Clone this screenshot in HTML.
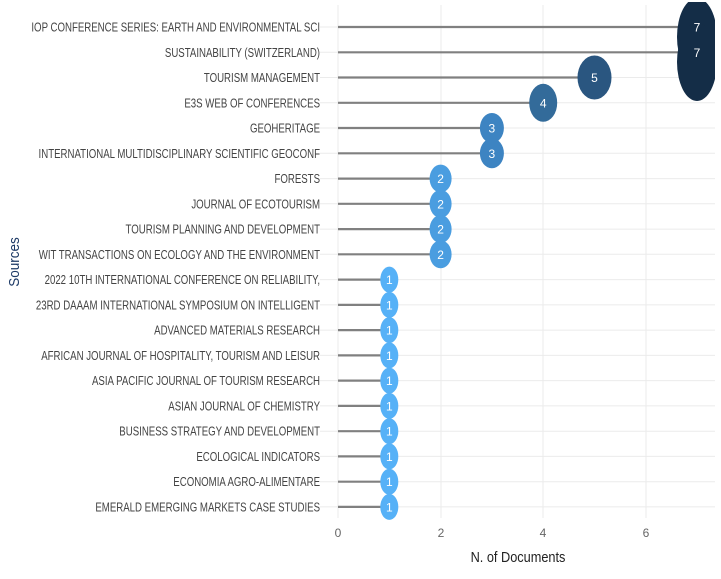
<!DOCTYPE html>
<html><head><meta charset="utf-8"><style>body{margin:0;background:#fff}svg{display:block;font-family:"Liberation Sans",sans-serif}</style></head><body>
<svg width="721" height="579" xmlns="http://www.w3.org/2000/svg">
<rect width="721" height="579" fill="#fff"/>
<g stroke="#ebebeb" stroke-width="1">
<line x1="338" y1="5" x2="338" y2="518"/><line x1="441" y1="5" x2="441" y2="518"/><line x1="543" y1="5" x2="543" y2="518"/><line x1="646" y1="5" x2="646" y2="518"/>
<line x1="320" y1="27" x2="715" y2="27"/><line x1="320" y1="52.3" x2="715" y2="52.3"/><line x1="320" y1="77.5" x2="715" y2="77.5"/><line x1="320" y1="102.8" x2="715" y2="102.8"/><line x1="320" y1="128" x2="715" y2="128"/><line x1="320" y1="153.3" x2="715" y2="153.3"/><line x1="320" y1="178.6" x2="715" y2="178.6"/><line x1="320" y1="203.8" x2="715" y2="203.8"/><line x1="320" y1="229.1" x2="715" y2="229.1"/><line x1="320" y1="254.3" x2="715" y2="254.3"/><line x1="320" y1="279.6" x2="715" y2="279.6"/><line x1="320" y1="304.9" x2="715" y2="304.9"/><line x1="320" y1="330.1" x2="715" y2="330.1"/><line x1="320" y1="355.4" x2="715" y2="355.4"/><line x1="320" y1="380.6" x2="715" y2="380.6"/><line x1="320" y1="405.9" x2="715" y2="405.9"/><line x1="320" y1="431.2" x2="715" y2="431.2"/><line x1="320" y1="456.4" x2="715" y2="456.4"/><line x1="320" y1="481.7" x2="715" y2="481.7"/><line x1="320" y1="506.9" x2="715" y2="506.9"/>
</g>
<g stroke="#808080" stroke-width="2.2">
<line x1="338" y1="27" x2="697" y2="27"/><line x1="338" y1="52.3" x2="697" y2="52.3"/><line x1="338" y1="77.5" x2="594" y2="77.5"/><line x1="338" y1="102.8" x2="543" y2="102.8"/><line x1="338" y1="128" x2="492" y2="128"/><line x1="338" y1="153.3" x2="492" y2="153.3"/><line x1="338" y1="178.6" x2="441" y2="178.6"/><line x1="338" y1="203.8" x2="441" y2="203.8"/><line x1="338" y1="229.1" x2="441" y2="229.1"/><line x1="338" y1="254.3" x2="441" y2="254.3"/><line x1="338" y1="279.6" x2="389" y2="279.6"/><line x1="338" y1="304.9" x2="389" y2="304.9"/><line x1="338" y1="330.1" x2="389" y2="330.1"/><line x1="338" y1="355.4" x2="389" y2="355.4"/><line x1="338" y1="380.6" x2="389" y2="380.6"/><line x1="338" y1="405.9" x2="389" y2="405.9"/><line x1="338" y1="431.2" x2="389" y2="431.2"/><line x1="338" y1="456.4" x2="389" y2="456.4"/><line x1="338" y1="481.7" x2="389" y2="481.7"/><line x1="338" y1="506.9" x2="389" y2="506.9"/>
</g>
<g>
<ellipse cx="697" cy="37" rx="20" ry="39" fill="#142d47"/><ellipse cx="697" cy="62" rx="20" ry="39" fill="#142d47"/>
<ellipse cx="594.5" cy="77.5" rx="17" ry="22" fill="#2a5680"/>
<ellipse cx="543.2" cy="102.8" rx="14" ry="19" fill="#336b9a"/>
<ellipse cx="491.9" cy="128" rx="12" ry="15" fill="#3d84c2"/><ellipse cx="491.9" cy="153.3" rx="12" ry="15" fill="#3d84c2"/>
<ellipse cx="440.6" cy="178.6" rx="11" ry="14" fill="#4a9de0"/><ellipse cx="440.6" cy="203.8" rx="11" ry="14" fill="#4a9de0"/><ellipse cx="440.6" cy="229.1" rx="11" ry="14" fill="#4a9de0"/><ellipse cx="440.6" cy="254.3" rx="11" ry="14" fill="#4a9de0"/>
<g fill="#56B1F7"><ellipse cx="389.3" cy="279.6" rx="9" ry="13"/><ellipse cx="389.3" cy="304.9" rx="9" ry="13"/><ellipse cx="389.3" cy="330.1" rx="9" ry="13"/><ellipse cx="389.3" cy="355.4" rx="9" ry="13"/><ellipse cx="389.3" cy="380.6" rx="9" ry="13"/><ellipse cx="389.3" cy="405.9" rx="9" ry="13"/><ellipse cx="389.3" cy="431.2" rx="9" ry="13"/><ellipse cx="389.3" cy="456.4" rx="9" ry="13"/><ellipse cx="389.3" cy="481.7" rx="9" ry="13"/><ellipse cx="389.3" cy="506.9" rx="9" ry="13"/></g>
</g>
<g font-size="12" fill="#fff" text-anchor="middle">
<text x="697" y="31.5">7</text><text x="697" y="56.8">7</text><text x="594.5" y="82">5</text><text x="543.2" y="107.3">4</text><text x="491.9" y="132.5">3</text><text x="491.9" y="157.8">3</text><text x="440.6" y="183.1">2</text><text x="440.6" y="208.3">2</text><text x="440.6" y="233.6">2</text><text x="440.6" y="258.8">2</text><text x="389.3" y="284.1">1</text><text x="389.3" y="309.4">1</text><text x="389.3" y="334.6">1</text><text x="389.3" y="359.9">1</text><text x="389.3" y="385.1">1</text><text x="389.3" y="410.4">1</text><text x="389.3" y="435.7">1</text><text x="389.3" y="460.9">1</text><text x="389.3" y="486.2">1</text><text x="389.3" y="511.4">1</text>
</g>
<g transform="scale(0.773,1)" font-size="12.5" fill="#444" text-anchor="end">
<text x="414" y="31.5">IOP CONFERENCE SERIES: EARTH AND ENVIRONMENTAL SCI</text>
<text x="414" y="56.8">SUSTAINABILITY (SWITZERLAND)</text>
<text x="414" y="82">TOURISM MANAGEMENT</text>
<text x="414" y="107.3">E3S WEB OF CONFERENCES</text>
<text x="414" y="132.5">GEOHERITAGE</text>
<text x="414" y="157.8">INTERNATIONAL MULTIDISCIPLINARY SCIENTIFIC GEOCONF</text>
<text x="414" y="183.1">FORESTS</text>
<text x="414" y="208.3">JOURNAL OF ECOTOURISM</text>
<text x="414" y="233.6">TOURISM PLANNING AND DEVELOPMENT</text>
<text x="414" y="258.8">WIT TRANSACTIONS ON ECOLOGY AND THE ENVIRONMENT</text>
<text x="414" y="284.1">2022 10TH INTERNATIONAL CONFERENCE ON RELIABILITY,</text>
<text x="414" y="309.4">23RD DAAAM INTERNATIONAL SYMPOSIUM ON INTELLIGENT</text>
<text x="414" y="334.6">ADVANCED MATERIALS RESEARCH</text>
<text x="414" y="359.9">AFRICAN JOURNAL OF HOSPITALITY, TOURISM AND LEISUR</text>
<text x="414" y="385.1">ASIA PACIFIC JOURNAL OF TOURISM RESEARCH</text>
<text x="414" y="410.4">ASIAN JOURNAL OF CHEMISTRY</text>
<text x="414" y="435.7">BUSINESS STRATEGY AND DEVELOPMENT</text>
<text x="414" y="460.9">ECOLOGICAL INDICATORS</text>
<text x="414" y="486.2">ECONOMIA AGRO-ALIMENTARE</text>
<text x="414" y="511.4">EMERALD EMERGING MARKETS CASE STUDIES</text>
</g>
<g font-size="12" fill="#666" text-anchor="middle"><text x="338" y="537">0</text><text x="441" y="537">2</text><text x="543" y="537">4</text><text x="646" y="537">6</text></g>
<text transform="translate(518,562) scale(0.85,1)" font-size="15" fill="#222" text-anchor="middle">N. of Documents</text>
<text transform="translate(19,262) rotate(-90) scale(0.9,1)" font-size="15" fill="#1d3a66" text-anchor="middle">Sources</text>
<rect x="715" y="0" width="6" height="579" fill="#fff"/>
<rect x="0" y="0" width="721" height="2" fill="#fff"/>
</svg>
</body></html>
